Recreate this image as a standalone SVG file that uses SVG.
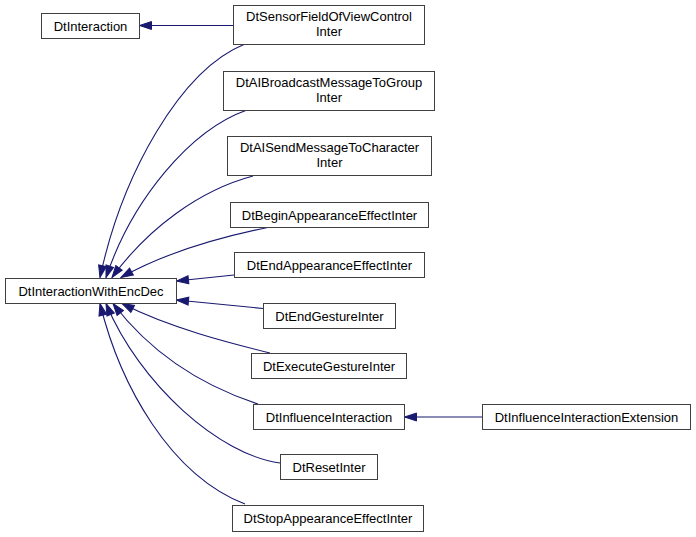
<svg xmlns="http://www.w3.org/2000/svg" width="696" height="537" viewBox="0 0 696 537">
<style>
.node rect{fill:#ffffff;stroke:#404040;stroke-width:1}
.node text{font-family:"Liberation Sans",Arial,sans-serif;font-size:13px;fill:#000000;text-anchor:middle}
.edge path{fill:none;stroke:#191970;stroke-width:1.1}
</style>
<defs>
<marker id="arr" markerUnits="userSpaceOnUse" markerWidth="14" markerHeight="11" refX="13" refY="5" orient="auto" viewBox="0 0 14 10">
<path d="M1,1 L13,5 L1,9 Z" fill="#191970" stroke="#191970" stroke-width="1"/>
</marker>
</defs>
<rect width="696" height="537" fill="#ffffff"/>
<g id="edges" class="edge">
<path d="M233,25.5 L139.5,25.5" marker-end="url(#arr)"/>
<path d="M482,417 L404.5,417" marker-end="url(#arr)"/>
<path d="M245,44 C180,70 122,175 100,277.5" marker-end="url(#arr)"/>
<path d="M247,110 C190,130 132,200 106,277.5" marker-end="url(#arr)"/>
<path d="M253,176 C200,190 148,228 112,277.5" marker-end="url(#arr)"/>
<path d="M270,227 C230,235 170,250 121,277.5" marker-end="url(#arr)"/>
<path d="M234,275 L176.5,281" marker-end="url(#arr)"/>
<path d="M263,308.5 L176.5,300" marker-end="url(#arr)"/>
<path d="M270,353 C230,343 170,328 122,303.5" marker-end="url(#arr)"/>
<path d="M258,404 C200,385 150,352 113,303.5" marker-end="url(#arr)"/>
<path d="M280,463 C220,455 140,385 106,303.5" marker-end="url(#arr)"/>
<path d="M245,504 C170,475 120,385 100,303.5" marker-end="url(#arr)"/>
</g>
<g id="n_DtInteraction" class="node"><rect x="41.5" y="13.5" width="98" height="25"/><text x="90.5" y="30.5">DtInteraction</text></g>
<g id="n_DtInteractionWithEncDec" class="node"><rect x="5.5" y="278.5" width="171" height="25"/><text x="91" y="295.5">DtInteractionWithEncDec</text></g>
<g id="n_DtSensorFieldOfViewControlInter" class="node"><rect x="233.5" y="5.5" width="191" height="39"/><text x="329" y="20.5">DtSensorFieldOfViewControl</text><text x="329" y="36">Inter</text></g>
<g id="n_DtAIBroadcastMessageToGroupInter" class="node"><rect x="223.5" y="71.5" width="211" height="39"/><text x="329" y="86.5">DtAIBroadcastMessageToGroup</text><text x="329" y="102">Inter</text></g>
<g id="n_DtAISendMessageToCharacterInter" class="node"><rect x="227.5" y="136.5" width="204" height="39"/><text x="329.5" y="151.5">DtAISendMessageToCharacter</text><text x="329.5" y="167">Inter</text></g>
<g id="n_DtBeginAppearanceEffectInter" class="node"><rect x="230.5" y="202.5" width="198" height="25"/><text x="329.5" y="219.5">DtBeginAppearanceEffectInter</text></g>
<g id="n_DtEndAppearanceEffectInter" class="node"><rect x="234.5" y="252.5" width="190" height="25"/><text x="329.5" y="269.5">DtEndAppearanceEffectInter</text></g>
<g id="n_DtEndGestureInter" class="node"><rect x="263.5" y="303.5" width="132" height="25"/><text x="329.5" y="320.5">DtEndGestureInter</text></g>
<g id="n_DtExecuteGestureInter" class="node"><rect x="251.5" y="353.5" width="155" height="25"/><text x="329" y="370.5">DtExecuteGestureInter</text></g>
<g id="n_DtInfluenceInteraction" class="node"><rect x="253.5" y="404.5" width="151" height="25"/><text x="329" y="421.5">DtInfluenceInteraction</text></g>
<g id="n_DtResetInter" class="node"><rect x="280.5" y="454.5" width="97" height="25"/><text x="329" y="471.5">DtResetInter</text></g>
<g id="n_DtStopAppearanceEffectInter" class="node"><rect x="232.5" y="505.5" width="191" height="26"/><text x="328" y="522.5">DtStopAppearanceEffectInter</text></g>
<g id="n_DtInfluenceInteractionExtension" class="node"><rect x="482.5" y="404.5" width="208" height="25"/><text x="586.5" y="421.5">DtInfluenceInteractionExtension</text></g>
</svg>
